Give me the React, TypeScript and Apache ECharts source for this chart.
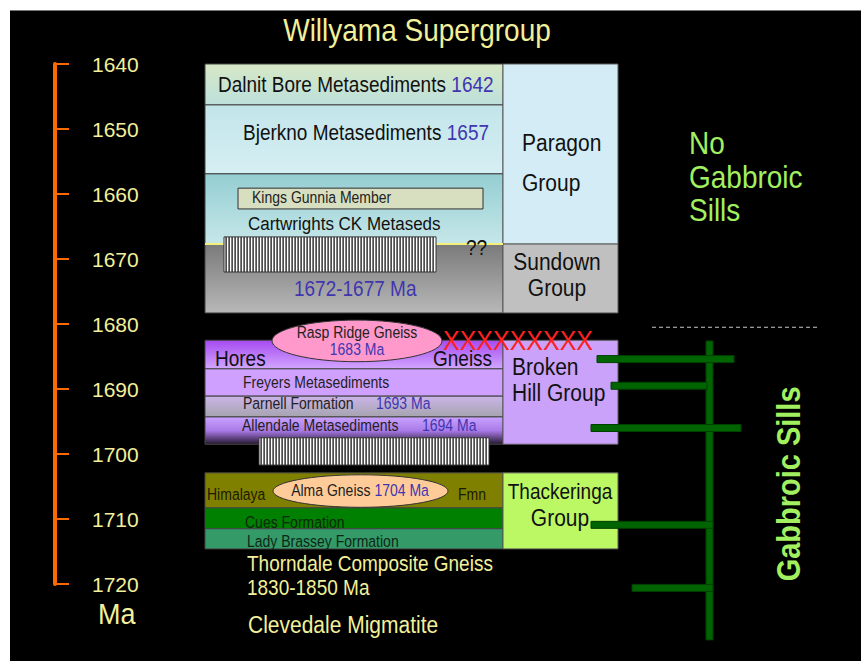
import React, { useEffect, useRef } from "react";
import * as echarts from "echarts";

const FONT = '"Liberation Sans", Arial, Helvetica, sans-serif';
const TY = 1.12; // vertical stretch of lettering seen in the reference

// ---- Time axis (Ma) ----
const axisMinMa = 1640;
const axisMaxMa = 1720;
const axisStepMa = 10;

// ---- Column layout (horizontal pixel units of the hidden x axis) ----
const colLeft = 205;
const colSplit = 503;
const colRight = 618;

// ---- Formations (main column) ----
const unitNames = [
  "Dalnit Bore Metasediments",
  "Bjerkno Metasediments",
  "Cartwrights CK Metaseds",
  "Sundown Group (1672-1677 Ma)",
  "Hores Gneiss",
  "Freyers Metasediments",
  "Parnell Formation",
  "Allendale Metasediments",
  "Himalaya Fmn",
  "Cues Formation",
  "Lady Brassey Formation",
];
const unitTopMa = [1640, 1646.3, 1656.9, 1667.7, 1682.5, 1686.9, 1691.1, 1694.3, 1702.9, 1708.3, 1711.5];
const unitBaseMa = [1646.3, 1656.9, 1667.7, 1678.3, 1686.9, 1691.1, 1694.3, 1698.5, 1708.3, 1711.5, 1714.6];

// ---- Groups (right column) ----
const groupNames = ["Paragon Group", "Sundown Group", "Broken Hill Group", "Thackeringa Group"];
const groupTopMa = [1640, 1667.7, 1682.5, 1702.9];
const groupBaseMa = [1667.7, 1678.3, 1698.5, 1714.6];

// ---- Inset member ----
const memberNames = ["Kings Gunnia Member"];
const memberTopMa = [1659.1];
const memberBaseMa = [1662.3];

// ---- Hatched (pegmatite-like) bands ----
const bandTopMa = [1666.6, 1697.5];
const bandBaseMa = [1672.0, 1701.7];

// ---- Intrusive gneisses (ellipses) ----
const gneissNames = ["Rasp Ridge Gneiss", "Alma Gneiss"];
const gneissTopMa = [1679.4, 1703.2];
const gneissBaseMa = [1685.8, 1708.2];

// ---- Gabbroic sills ----
const sillAgesMa = [1685.4, 1689.5, 1696.0, 1710.9, 1720.6];
const feederTopMa = 1682.6;
const feederBaseMa = 1728.6;
const sillLimitMa = 1680.5;
const contactMa = 1667.7;

// ---- Styles / layout (kept apart from the values) ----
const unitFills = [
  ["#d6e8c6", "#bde0dc"],
  ["#c2e5ea", "#d6eff3"],
  ["#94ced2", "#c6e7e9"],
  ["#7a7a7a", "#b8b8b8"],
  ["#a64af0", "#d2a6ff"],
  ["#cfa0ff", "#cfa0ff"],
  ["#cbb4ea", "#a6a4ae"],
  ["#c9a2ff", "#aa7ae8", "#24182e"],
  ["#808000", "#808000"],
  ["#008000", "#008000"],
  ["#339a68", "#339a68"],
];
const groupFills = ["#d3ecf5", "#c0c0c0", "#caa2fa", "#bcf863"];
const memberX = [[238, 483]];
const bandX = [[224, 436], [259, 489]];
const gneissX = [[272, 442], [273, 448]];
const gneissFills = ["#ff99cc", "#ffcc99"];
const sillX = [[597, 734], [611, 707], [591, 741], [591, 713], [632, 713]];
const feederX = 709.5;
const sillLimitX = [652, 820];

const INK = "#111111";
const BLUE = "#4036b0";
const PALE = "#f2f09a";
const LIME = "#a2f060";
const RED = "#ff2020";

// text, x, Ma, fontSize, colour, align, weight, rotation
const labelSpec: any[] = [
  ["Dalnit Bore Metasediments {b|1642}", 218, 1643.1, 19, INK, "left"],
  ["Bjerkno Metasediments {b|1657}", 243, 1650.5, 19, INK, "left"],
  ["Kings Gunnia Member", 252, 1660.5, 14, "#222222", "left"],
  ["Cartwrights CK Metaseds", 248, 1664.5, 17, INK, "left"],
  ["??", 466, 1668.2, 19, INK, "left"],
  ["{b|1672-1677 Ma}", 294, 1674.6, 19, INK, "left"],
  ["Paragon", 522, 1652.2, 21, INK, "left"],
  ["Group", 522, 1658.3, 21, INK, "left"],
  ["Sundown", 557, 1670.4, 21, INK, "center"],
  ["Group", 557, 1674.5, 21, INK, "center"],
  ["Rasp Ridge Gneiss", 357, 1681.4, 14, "#222222", "center"],
  ["{b|1683 Ma}", 357, 1683.9, 14, INK, "center"],
  ["XXXXXXXXX", 443, 1682.5, 25, RED, "left"],
  ["Hores", 215, 1685.4, 19, INK, "left"],
  ["Gneiss", 433, 1685.4, 19, INK, "left"],
  ["Freyers Metasediments", 243, 1689.1, 14, "#222222", "left"],
  ["Parnell Formation", 243, 1692.3, 14, "#222222", "left"],
  ["{b|1693 Ma}", 376, 1692.3, 14, INK, "left"],
  ["Allendale Metasediments", 242, 1695.7, 14, "#222222", "left"],
  ["{b|1694 Ma}", 422, 1695.7, 14, INK, "left"],
  ["Broken", 512, 1686.6, 21, INK, "left"],
  ["Hill Group", 512, 1690.6, 21, INK, "left"],
  ["Himalaya", 207, 1706.2, 14, "#1a1a00", "left"],
  ["Fmn", 458, 1706.2, 14, "#1a1a00", "left"],
  ["Alma Gneiss {b|1704 Ma}", 360, 1705.7, 14, "#222222", "center"],
  ["Cues Formation", 245, 1710.5, 14, "#0c280c", "left"],
  ["Lady Brassey Formation", 247, 1713.5, 14, "#0c2816", "left"],
  ["Thackeringa", 560, 1705.8, 19, INK, "center"],
  ["Group", 560, 1709.8, 21, INK, "center"],
  ["Thorndale Composite Gneiss", 247, 1716.9, 19, PALE, "left"],
  ["1830-1850 Ma", 247, 1720.5, 19, PALE, "left"],
  ["Clevedale Migmatite", 248, 1726.3, 21, PALE, "left"],
  ["Ma", 98, 1724.6, 27, PALE, "left"],
  ["No", 689, 1652.2, 28, LIME, "left"],
  ["Gabbroic", 689, 1657.4, 28, LIME, "left"],
  ["Sills", 689, 1662.5, 28, LIME, "left"],
  ["Gabbroic Sills", 789, 1704.6, 29, LIME, "center", "bold", Math.PI / 2],
];

function grad(colors: string[]) {
  const n = colors.length;
  return new echarts.graphic.LinearGradient(
    0, 0, 0, 1,
    colors.map((c, i) => ({ offset: n === 1 ? 0 : i / (n - 1), color: c }))
  );
}

function boxRenderer(fillFor: (i: number) => any, stroke: string) {
  return (params: any, api: any) => {
    const a = api.coord([api.value(0), api.value(1)]);
    const b = api.coord([api.value(2), api.value(3)]);
    return {
      type: "rect",
      shape: { x: a[0], y: a[1], width: b[0] - a[0], height: b[1] - a[1] },
      style: { fill: fillFor(params.dataIndex), stroke, lineWidth: 1 },
    };
  };
}

export default function App() {
  const ref = useRef<HTMLDivElement>(null);

  useEffect(() => {
    if (!ref.current) return;
    const chart = echarts.init(ref.current, undefined, { renderer: "svg" });

    const option: any = {
      animation: false,
      backgroundColor: "transparent",
      grid: { left: 55, right: 0, top: 64, bottom: 77, containLabel: false },
      xAxis: { type: "value", min: 55, max: 861, show: false },
      yAxis: {
        type: "value",
        inverse: true,
        min: axisMinMa,
        max: axisMaxMa,
        interval: axisStepMa,
        position: "left",
        axisLine: { show: true, lineStyle: { color: "#ff6a00", width: 4 } },
        axisTick: { show: true, inside: true, length: 14, lineStyle: { color: "#ff6a00", width: 2 } },
        axisLabel: {
          inside: true,
          margin: 37,
          color: PALE,
          fontSize: 21,
          fontFamily: FONT,
          padding: [6, 0, 0, 0],
          formatter: (v: number) => String(v),
        },
        splitLine: { show: false },
      },
      graphic: [
        {
          type: "text",
          x: 417,
          y: 30,
          scaleY: TY,
          style: {
            text: "Willyama Supergroup",
            fill: PALE,
            fontSize: 28,
            fontFamily: FONT,
            align: "center",
            verticalAlign: "middle",
            textAlign: "center",
            textVerticalAlign: "middle",
          },
        },
      ],
      series: [
        {
          name: "Formations",
          type: "custom",
          coordinateSystem: "cartesian2d",
          encode: { x: [0, 2], y: [1, 3] },
          data: unitNames.map((_, i) => [colLeft, unitTopMa[i], colSplit, unitBaseMa[i]]),
          renderItem: boxRenderer((i) => grad(unitFills[i]), "#454545"),
          z: 2,
        },
        {
          name: "Groups",
          type: "custom",
          coordinateSystem: "cartesian2d",
          encode: { x: [0, 2], y: [1, 3] },
          data: groupNames.map((_, i) => [colSplit, groupTopMa[i], colRight, groupBaseMa[i]]),
          renderItem: boxRenderer((i) => groupFills[i], "#5a5a5a"),
          z: 2,
        },
        {
          name: "Members",
          type: "custom",
          coordinateSystem: "cartesian2d",
          encode: { x: [0, 2], y: [1, 3] },
          data: memberNames.map((_, i) => [memberX[i][0], memberTopMa[i], memberX[i][1], memberBaseMa[i]]),
          renderItem: boxRenderer(() => "#d8dfc0", "#303030"),
          z: 3,
        },
        {
          name: "Contact",
          type: "custom",
          coordinateSystem: "cartesian2d",
          encode: { x: [0, 2], y: 1 },
          data: [[colLeft, contactMa, colSplit]],
          renderItem: (params: any, api: any) => {
            const a = api.coord([api.value(0), api.value(1)]);
            const b = api.coord([api.value(2), api.value(1)]);
            return {
              type: "line",
              shape: { x1: a[0], y1: a[1], x2: b[0], y2: b[1] },
              style: { stroke: "#f4f07a", lineWidth: 2 },
            };
          },
          z: 3,
        },
        {
          name: "Bands",
          type: "custom",
          coordinateSystem: "cartesian2d",
          encode: { x: [0, 2], y: [1, 3] },
          data: bandTopMa.map((t, i) => [bandX[i][0], t, bandX[i][1], bandBaseMa[i]]),
          renderItem: (params: any, api: any) => {
            const a = api.coord([api.value(0), api.value(1)]);
            const b = api.coord([api.value(2), api.value(3)]);
            const w = b[0] - a[0];
            const h = b[1] - a[1];
            const children: any[] = [
              { type: "rect", shape: { x: a[0], y: a[1], width: w, height: h }, style: { fill: "#ffffff" } },
            ];
            for (let x = a[0] + 1.5; x < b[0] - 1; x += 3) {
              children.push({
                type: "rect",
                shape: { x, y: a[1], width: 1.2, height: h },
                style: { fill: "#000000" },
              });
            }
            children.push({
              type: "rect",
              shape: { x: a[0], y: a[1], width: w, height: h },
              style: { fill: "none", stroke: "#333333", lineWidth: 1 },
            });
            return { type: "group", children };
          },
          z: 4,
        },
        {
          name: "Gneisses",
          type: "custom",
          coordinateSystem: "cartesian2d",
          encode: { x: [0, 2], y: [1, 3] },
          data: gneissNames.map((_, i) => [gneissX[i][0], gneissTopMa[i], gneissX[i][1], gneissBaseMa[i]]),
          renderItem: (params: any, api: any) => {
            const a = api.coord([api.value(0), api.value(1)]);
            const b = api.coord([api.value(2), api.value(3)]);
            return {
              type: "ellipse",
              shape: { cx: (a[0] + b[0]) / 2, cy: (a[1] + b[1]) / 2, rx: (b[0] - a[0]) / 2, ry: (b[1] - a[1]) / 2 },
              style: { fill: gneissFills[params.dataIndex], stroke: "#333333", lineWidth: 1 },
            };
          },
          z: 5,
        },
        {
          name: "Sill limit",
          type: "custom",
          coordinateSystem: "cartesian2d",
          encode: { x: [0, 2], y: 1 },
          data: [[sillLimitX[0], sillLimitMa, sillLimitX[1]]],
          renderItem: (params: any, api: any) => {
            const a = api.coord([api.value(0), api.value(1)]);
            const b = api.coord([api.value(2), api.value(1)]);
            return {
              type: "line",
              shape: { x1: a[0], y1: a[1], x2: b[0], y2: b[1] },
              style: { stroke: "#c8c8c8", lineWidth: 1, lineDash: [4, 3] },
            };
          },
          z: 5,
        },
        {
          name: "Feeder",
          type: "custom",
          coordinateSystem: "cartesian2d",
          encode: { x: 0, y: [1, 2] },
          data: [[feederX, feederTopMa, feederBaseMa]],
          renderItem: (params: any, api: any) => {
            const a = api.coord([api.value(0), api.value(1)]);
            const b = api.coord([api.value(0), api.value(2)]);
            return {
              type: "rect",
              shape: { x: a[0] - 3.5, y: a[1], width: 7, height: b[1] - a[1] },
              style: { fill: "#006400", stroke: "#004000", lineWidth: 1 },
            };
          },
          z: 6,
        },
        {
          name: "Gabbroic sills",
          type: "custom",
          coordinateSystem: "cartesian2d",
          encode: { x: [0, 2], y: 1 },
          data: sillAgesMa.map((m, i) => [sillX[i][0], m, sillX[i][1]]),
          renderItem: (params: any, api: any) => {
            const a = api.coord([api.value(0), api.value(1)]);
            const b = api.coord([api.value(2), api.value(1)]);
            return {
              type: "rect",
              shape: { x: a[0], y: a[1] - 3.5, width: b[0] - a[0], height: 7 },
              style: { fill: "#006400", stroke: "#004000", lineWidth: 1 },
            };
          },
          z: 7,
        },
        {
          name: "Labels",
          type: "custom",
          coordinateSystem: "cartesian2d",
          encode: { x: 0, y: 1 },
          data: labelSpec.map((s) => [s[1], s[2]]),
          renderItem: (params: any, api: any) => {
            const s = labelSpec[params.dataIndex];
            const p = api.coord([api.value(0), api.value(1)]);
            const size = s[3];
            return {
              type: "text",
              x: p[0],
              y: p[1],
              rotation: s[7] || 0,
              scaleY: TY,
              style: {
                text: s[0],
                x: 0,
                y: 0,
                fill: s[4],
                fontSize: size,
                fontFamily: FONT,
                fontWeight: s[6] || "normal",
                align: s[5],
                verticalAlign: "middle",
                rich: {
                  b: { fill: BLUE, fontSize: size, fontFamily: FONT },
                },
              },
            };
          },
          z: 10,
        },
      ],
    };

    chart.setOption(option);
    return () => chart.dispose();
  }, []);

  return (
    <div style={{ position: "fixed", left: 0, top: 0, width: 861, height: 661, background: "#ffffff" }}>
      <div
        style={{
          position: "absolute",
          left: 10,
          top: 10,
          right: 0,
          bottom: 0,
          background: "#000000",
          borderTop: "1px solid #777",
        }}
      />
      <div ref={ref} style={{ position: "absolute", left: 0, top: 0, width: 861, height: 661 }} />
    </div>
  );
}
